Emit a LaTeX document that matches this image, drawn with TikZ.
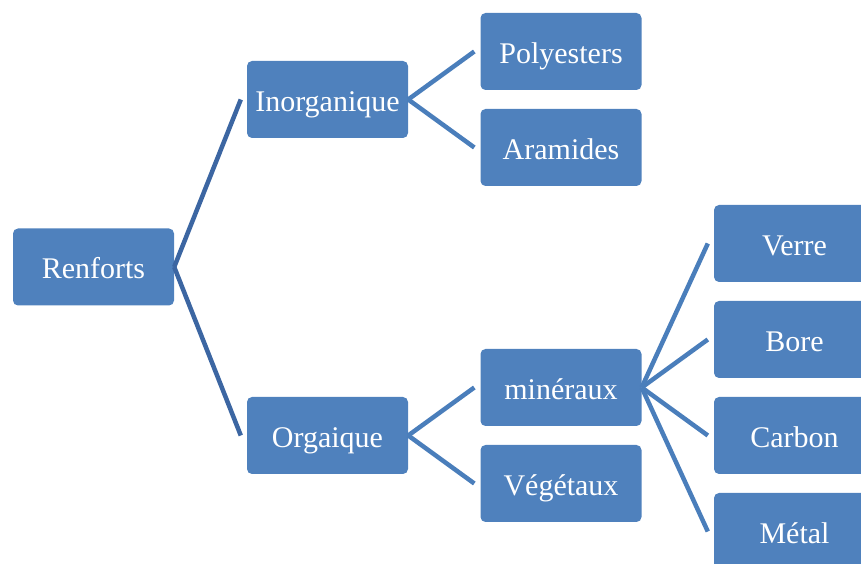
\documentclass[tikz,border=0pt]{standalone}
\usepackage{fontspec}
\setmainfont{Liberation Serif}
\usepackage{xcolor}

\begin{document}
\begin{tikzpicture}[x=1pt,y=1pt,
  box/.style={fill=boxblue,rounded corners=5pt,minimum width=161pt,minimum height=77pt,
    inner sep=0pt,text=white,text height=25pt,text depth=1pt,font=\fontsize{30}{35}\selectfont},
  link/.style={line width=4.5pt,draw=linkblue},
  toplink/.style={line width=4.5pt,draw=topblue}]
% Define colours
\definecolor{boxblue}{RGB}{79,129,189}
\definecolor{linkblue}{RGB}{74,126,187}
\definecolor{topblue}{RGB}{60,102,162}

\useasboundingbox (0,0) rectangle (861,564);

% Draw boxes
\node[box] (renforts) at (93.5,297) {Renforts};
\node[box] (inorg) at (327.5,464.5) {Inorganique};
\node[box] (orga) at (327.5,128.5) {Orgaique};
\node[box] (poly) at (561,512.5) {Polyesters};
\node[box] (aram) at (561,416.5) {Aramides};
\node[box] (miner) at (561,176.5) {minéraux};
\node[box] (veget) at (561,80.5) {Végétaux};
\node[box] (verre) at (794.5,320.5) {Verre};
\node[box] (bore) at (794.5,224.5) {Bore};
\node[box] (carbon) at (794.5,128.5) {Carbon};
\node[box] (metal) at (794.5,32.5) {Métal};

% Draw connections
\draw[toplink] (renforts.east) -- ([xshift=-6pt]inorg.west);
\draw[toplink] (renforts.east) -- ([xshift=-6pt]orga.west);
\draw[link] (inorg.east) -- ([xshift=-6pt]poly.west);
\draw[link] (inorg.east) -- ([xshift=-6pt]aram.west);
\draw[link] (orga.east) -- ([xshift=-6pt]miner.west);
\draw[link] (orga.east) -- ([xshift=-6pt]veget.west);
\draw[link] (miner.east) -- ([xshift=-6pt]verre.west);
\draw[link] (miner.east) -- ([xshift=-6pt]bore.west);
\draw[link] (miner.east) -- ([xshift=-6pt]carbon.west);
\draw[link] (miner.east) -- ([xshift=-6pt]metal.west);
\end{tikzpicture}
\end{document}
